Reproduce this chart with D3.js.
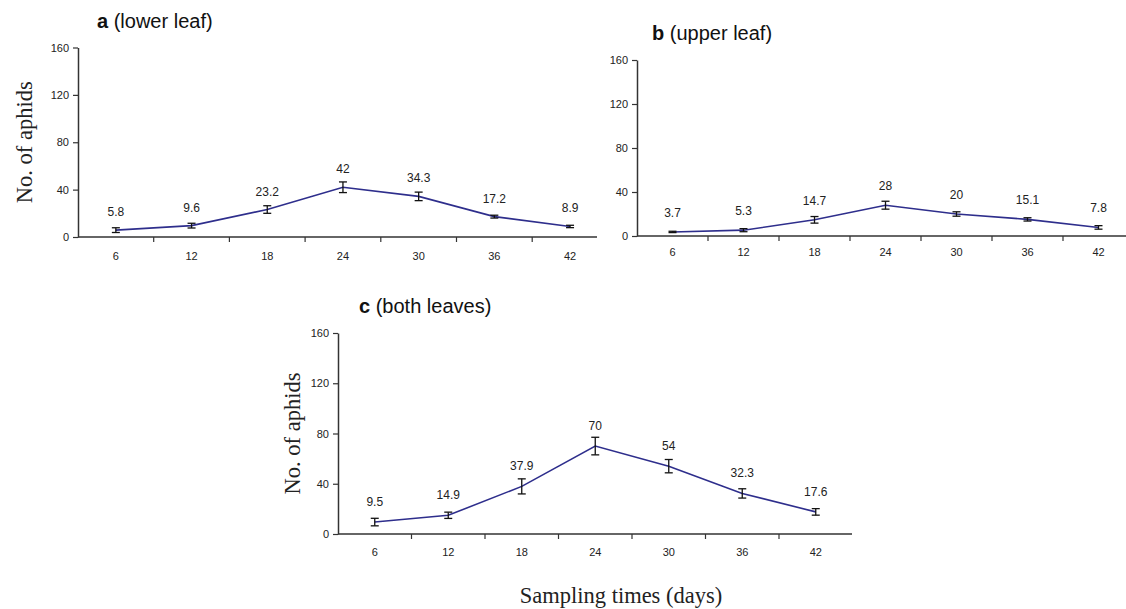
<!DOCTYPE html>
<html>
<head>
<meta charset="utf-8">
<script src="https://cdn.jsdelivr.net/npm/d3@7"></script>
<style>
  html, body { margin: 0; padding: 0; background: #fff; }
  svg { display: block; }
</style>
</head>
<body>
<script>
// ---- data ----
const days = ["6", "12", "18", "24", "30", "36", "42"];
const yTicks = [0, 40, 80, 120, 160];

const lowerMeans  = [5.8, 9.6, 23.2, 42, 34.3, 17.2, 8.9];
const lowerErrors = [2.0, 2.0, 3.2, 4.5, 3.6, 1.2, 1.0];

const upperMeans  = [3.7, 5.3, 14.7, 28, 20, 15.1, 7.8];
const upperErrors = [0.6, 1.4, 3.0, 3.6, 2.0, 1.5, 1.6];

const bothMeans   = [9.5, 14.9, 37.9, 70, 54, 32.3, 17.6];
const bothErrors  = [3.0, 2.5, 6.0, 7.0, 5.3, 3.7, 2.6];

const lowerLabels = ["5.8", "9.6", "23.2", "42", "34.3", "17.2", "8.9"];
const upperLabels = ["3.7", "5.3", "14.7", "28", "20", "15.1", "7.8"];
const bothLabels  = ["9.5", "14.9", "37.9", "70", "54", "32.3", "17.6"];

// ---- drawing ----
const W = 1126, H = 609;
const svg = d3.select("body").append("svg").attr("width", W).attr("height", H);

const LINE = "#2e2e8c";
const AXIS = "#333";
const TXT = "#222";

function panel(cfg) {
  const g = svg.append("g");
  const x = d3.scaleBand().domain(days).range([cfg.x0, cfg.x0 + 7 * cfg.bw]);
  const y = d3.scaleLinear().domain([0, 160]).range([cfg.y0, cfg.y1]);

  // y axis
  const ya = g.append("g").attr("transform", `translate(${cfg.x0},0)`)
    .call(d3.axisLeft(y).tickValues(yTicks).tickSize(5).tickSizeOuter(0).tickPadding(4));
  ya.select(".domain").attr("stroke", AXIS).attr("stroke-width", 1.5);
  ya.selectAll(".tick line").attr("stroke", AXIS).attr("stroke-width", 1.2);
  ya.selectAll("text").attr("font-family", "Arial, 'Liberation Sans', sans-serif")
    .attr("font-size", 11).attr("fill", TXT);

  // x axis (ticks at category boundaries)
  const xa = g.append("g").attr("transform", `translate(0,${cfg.y0})`);
  xa.append("line").attr("x1", cfg.x0).attr("x2", cfg.xEnd)
    .attr("y1", 0).attr("y2", 0).attr("stroke", AXIS).attr("stroke-width", 1.5);
  const bounds = days.slice(1).map(d => x(d));
  xa.selectAll("line.tk").data(bounds).join("line").attr("class", "tk")
    .attr("x1", d => d).attr("x2", d => d).attr("y1", 0).attr("y2", 5)
    .attr("stroke", AXIS).attr("stroke-width", 1.2);
  xa.selectAll("text").data(days).join("text")
    .attr("x", d => x(d) + x.bandwidth() / 2)
    .attr("y", cfg.xlabDy)
    .attr("text-anchor", "middle")
    .attr("font-family", "Arial, 'Liberation Sans', sans-serif")
    .attr("font-size", 11).attr("fill", TXT)
    .text(d => d);

  const pts = days.map((d, i) => ({
    cx: x(d) + x.bandwidth() / 2, v: cfg.means[i], e: cfg.errs[i], lab: cfg.labels[i]
  }));

  // line
  g.append("path").datum(pts)
    .attr("d", d3.line().x(p => p.cx).y(p => y(p.v)))
    .attr("fill", "none").attr("stroke", LINE).attr("stroke-width", 1.6);

  // error bars
  const eb = g.append("g").attr("stroke", "#111").attr("stroke-width", 1.3);
  pts.forEach(p => {
    eb.append("line").attr("x1", p.cx).attr("x2", p.cx)
      .attr("y1", y(p.v - p.e)).attr("y2", y(p.v + p.e));
    [p.v - p.e, p.v + p.e].forEach(v => {
      eb.append("line").attr("x1", p.cx - 4).attr("x2", p.cx + 4)
        .attr("y1", y(v)).attr("y2", y(v));
    });
  });

  // value labels
  g.selectAll("text.val").data(pts).join("text").attr("class", "val")
    .attr("x", p => p.cx).attr("y", p => y(p.v) - cfg.labOff)
    .attr("text-anchor", "middle")
    .attr("font-family", "Arial, 'Liberation Sans', sans-serif")
    .attr("font-size", 12).attr("fill", TXT)
    .text(p => p.lab);

  // title
  const t = g.append("text").attr("x", cfg.tx).attr("y", cfg.ty)
    .attr("font-family", "Arial, 'Liberation Sans', sans-serif")
    .attr("font-size", 20).attr("fill", "#111");
  t.append("tspan").attr("font-weight", "bold").text(cfg.letter);
  t.append("tspan").text(" " + cfg.title);

  // y label
  if (cfg.ylab) {
    g.append("text")
      .attr("transform", `translate(${cfg.ylx},${(cfg.y0 + cfg.y1) / 2}) rotate(-90)`)
      .attr("text-anchor", "middle")
      .attr("font-family", "'Liberation Serif', 'Times New Roman', serif")
      .attr("font-size", 22.5).attr("fill", "#222")
      .text("No. of aphids");
  }
}

panel({ x0: 78, bw: 75.7, xEnd: 597, y0: 237, y1: 47.5, xlabDy: 23,
  means: lowerMeans, errs: lowerErrors, labels: lowerLabels, labOff: 14,
  letter: "a", title: "(lower leaf)", tx: 97, ty: 28, ylab: true, ylx: 32 });

panel({ x0: 637, bw: 71, xEnd: 1126, y0: 236, y1: 60, xlabDy: 20,
  means: upperMeans, errs: upperErrors, labels: upperLabels, labOff: 15,
  letter: "b", title: "(upper leaf)", tx: 652, ty: 40, ylab: false });

panel({ x0: 338, bw: 73.5, xEnd: 852, y0: 534, y1: 333, xlabDy: 22,
  means: bothMeans, errs: bothErrors, labels: bothLabels, labOff: 16,
  letter: "c", title: "(both leaves)", tx: 359, ty: 313, ylab: true, ylx: 300 });

svg.append("text").attr("x", 621).attr("y", 603)
  .attr("text-anchor", "middle")
  .attr("font-family", "'Liberation Serif', 'Times New Roman', serif")
  .attr("font-size", 22.5).attr("fill", "#222")
  .text("Sampling times (days)");
</script>
</body>
</html>
